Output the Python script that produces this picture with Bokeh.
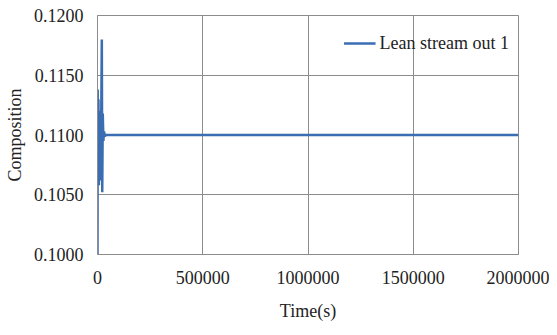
from bokeh.plotting import figure
from bokeh.models import FixedTicker, NumeralTickFormatter, Legend, LegendItem
from bokeh.embed import file_html
from bokeh.resources import INLINE

time_s = [0, 800, 2500, 4500, 6500, 8500, 10500, 12500, 15000, 17500, 20500, 22500,
          25000, 28000, 31000, 35000, 40000, 300000, 1000000, 1600000, 2000000]
composition = [0.1000, 0.1138, 0.1060, 0.1130, 0.1058, 0.1120, 0.1062, 0.1105, 0.1095,
               0.1110, 0.1180, 0.1052, 0.1118, 0.1095, 0.1103, 0.1099, 0.1100, 0.1100,
               0.1100, 0.1100, 0.1100]
x_ticks = [0, 500000, 1000000, 1500000, 2000000]
y_ticks = [0.1000, 0.1050, 0.1100, 0.1150, 0.1200]
series_name = "Lean stream out 1"

FONT = "Liberation Serif"
GRID = "#8c8c8c"
TEXT = "#222222"
FS = "18px"

p = figure(width=549, height=327, output_backend="svg", toolbar_location=None,
           x_range=(0, 2000000), y_range=(0.1, 0.12),
           min_border_left=97, min_border_right=31, min_border_top=15, min_border_bottom=73)
p.outline_line_color = GRID
p.outline_line_width = 1

r = p.line(time_s, composition, line_color="#3B6DB3", line_width=2.5)

for ax in (p.xaxis[0], p.yaxis[0]):
    ax.axis_line_color = GRID
    ax.major_tick_line_color = None
    ax.minor_tick_line_color = None
    ax.major_tick_out = 0
    ax.major_label_text_font = FONT
    ax.major_label_text_font_size = FS
    ax.major_label_text_color = TEXT
    ax.axis_label_text_font = FONT
    ax.axis_label_text_font_size = FS
    ax.axis_label_text_font_style = "normal"
    ax.axis_label_text_color = TEXT

p.xaxis.ticker = FixedTicker(ticks=x_ticks)
p.xaxis.formatter = NumeralTickFormatter(format="0")
p.xaxis.axis_label = "Time(s)"
p.xaxis.major_label_standoff = 16
p.xaxis.axis_label_standoff = 14

p.yaxis.ticker = FixedTicker(ticks=y_ticks)
p.yaxis.formatter = NumeralTickFormatter(format="0.0000")
p.yaxis.axis_label = "Composition"
p.yaxis.major_label_standoff = 14
p.yaxis.axis_label_standoff = 6

p.xgrid.grid_line_color = GRID
p.ygrid.grid_line_color = GRID
p.xgrid.ticker = FixedTicker(ticks=x_ticks)
p.ygrid.ticker = FixedTicker(ticks=y_ticks)

legend = Legend(items=[LegendItem(label=series_name, renderers=[r])],
                location="top_right", border_line_color=None, background_fill_alpha=0,
                label_text_font=FONT, label_text_font_size=FS, label_text_color=TEXT,
                glyph_width=32, glyph_height=38, label_standoff=4, margin=9, padding=5)
p.add_layout(legend)

open("out.html", "w").write(file_html(p, INLINE))
